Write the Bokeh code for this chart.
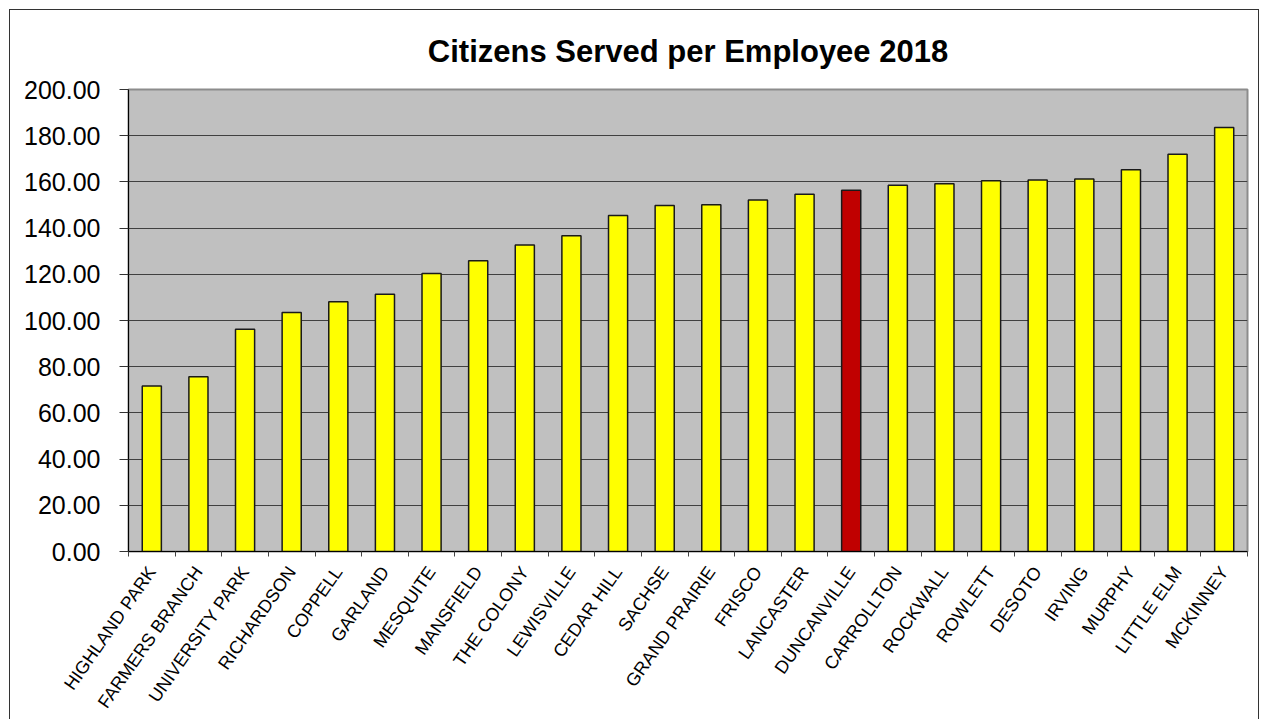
from bokeh.plotting import figure
from bokeh.models import Range1d, FixedTicker, NumeralTickFormatter, ColumnDataSource, Title
from bokeh.embed import file_html
from bokeh.resources import INLINE

cities = ["HIGHLAND PARK", "FARMERS BRANCH", "UNIVERSITY PARK", "RICHARDSON", "COPPELL",
          "GARLAND", "MESQUITE", "MANSFIELD", "THE COLONY", "LEWISVILLE", "CEDAR HILL",
          "SACHSE", "GRAND PRAIRIE", "FRISCO", "LANCASTER", "DUNCANVILLE", "CARROLLTON",
          "ROCKWALL", "ROWLETT", "DESOTO", "IRVING", "MURPHY", "LITTLE ELM", "MCKINNEY"]
values = [71.6, 75.7, 96.2, 103.5, 108.1, 111.4, 120.3, 125.9, 132.7, 136.7, 145.5,
          149.8, 150.1, 152.2, 154.7, 156.4, 158.5, 159.2, 160.5, 160.8, 161.3, 165.3,
          172.0, 183.5]
highlight = "DUNCANVILLE"
y_ticks = [0, 20, 40, 60, 80, 100, 120, 140, 160, 180, 200]

n = len(cities)
xs = [i + 0.5 for i in range(n)]
colors = ["#C00000" if c == highlight else "#FFFF00" for c in cities]
src = ColumnDataSource(dict(x=xs, top=values, color=colors))

p = figure(width=1250, height=712, output_backend="svg", toolbar_location=None,
           x_range=Range1d(0, n), y_range=Range1d(0, 200),
           min_border_left=118, min_border_right=13, min_border_top=79, min_border_bottom=171)

p.styles = {"border": "1px solid #333333", "margin-left": "9px", "margin-top": "9px"}

title = Title(text="Citizens Served per Employee 2018", align="center",
              text_font="Liberation Sans", text_font_size="31px", text_font_style="bold",
              text_color="black", standoff=41)
p.add_layout(title, "above")

p.border_fill_color = "white"
p.background_fill_color = "#C0C0C0"
p.outline_line_color = "#8C8C8C"
p.outline_line_width = 2

p.vbar(x="x", top="top", width=0.41, bottom=0, fill_color="color",
       line_color="#1A1A1A", line_width=1.5, source=src)

# y axis
p.yaxis.ticker = FixedTicker(ticks=y_ticks)
p.yaxis.formatter = NumeralTickFormatter(format="0.00")
p.yaxis.major_label_text_font = "Liberation Sans"
p.yaxis.major_label_text_font_size = "25px"
p.yaxis.major_label_text_color = "black"
p.yaxis.major_tick_out = 9
p.yaxis.major_tick_in = 0
p.yaxis.minor_tick_out = 0
p.yaxis.minor_tick_in = 0
p.yaxis.major_label_standoff = 19
p.yaxis.axis_line_color = "black"
p.yaxis.major_tick_line_color = "#333333"

# x axis: labels at centers, tick marks at category boundaries
p.xaxis.ticker = FixedTicker(ticks=xs, minor_ticks=list(range(n + 1)))
p.xaxis.major_label_overrides = {x: c for x, c in zip(xs, cities)}
p.xaxis.major_label_orientation = 0.96
p.xaxis.major_label_text_font = "Liberation Sans"
p.xaxis.major_label_text_font_size = "18px"
p.xaxis.major_label_text_color = "black"
p.xaxis.major_tick_out = 0
p.xaxis.major_tick_in = 0
p.xaxis.minor_tick_out = 5
p.xaxis.minor_tick_in = 0
p.xaxis.minor_tick_line_color = "#444444"
p.xaxis.major_label_standoff = 12
p.xaxis.axis_line_color = "black"

p.xgrid.grid_line_color = None
p.ygrid.ticker = FixedTicker(ticks=y_ticks)
p.ygrid.grid_line_color = "#404040"
p.ygrid.grid_line_width = 1

open("out.html", "w").write(file_html(p, INLINE))
